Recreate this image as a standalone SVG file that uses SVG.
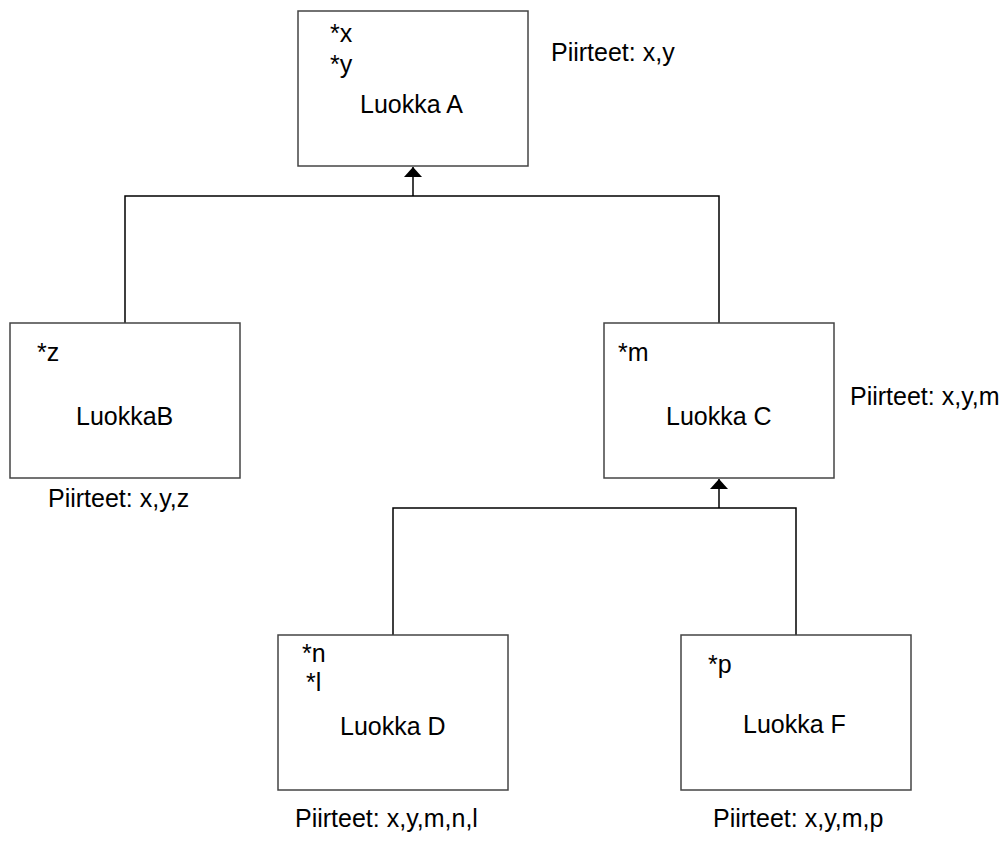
<svg xmlns="http://www.w3.org/2000/svg" width="1007" height="844" viewBox="0 0 1007 844">
  <style>
    .box { fill: #ffffff; stroke: #444444; stroke-width: 1.5; }
    .wire { fill: none; stroke: #000000; stroke-width: 1.5; }
    text { font-family: "Liberation Sans", Arial, sans-serif; font-size: 25px; fill: #000000; }
  </style>
  <defs>
    <marker id="arrowhead" viewBox="0 0 10 18" refX="10" refY="9" markerWidth="10" markerHeight="18" markerUnits="userSpaceOnUse" orient="auto">
      <path d="M0,0 L10,9 L0,18 Z" fill="#000000"/>
    </marker>
  </defs>
  <rect width="1007" height="844" fill="#ffffff"/>

  <!-- inheritance connectors -->
  <g id="connectors">
    <path class="wire" d="M125,323 V196 H719 V323"/>
    <path class="wire" d="M413,196 V167" marker-end="url(#arrowhead)"/>
    <path class="wire" d="M393,635 V508 H796 V635"/>
    <path class="wire" d="M719,508 V479" marker-end="url(#arrowhead)"/>
  </g>

  <g id="luokka-a">
    <rect class="box" x="298" y="11" width="230" height="155"/>
    <text x="330" y="42">*x</text>
    <text x="330" y="73">*y</text>
    <text x="360" y="113">Luokka A</text>
    <text x="551" y="61">Piirteet: x,y</text>
  </g>

  <g id="luokka-b">
    <rect class="box" x="10" y="323" width="230" height="155"/>
    <text x="37" y="361">*z</text>
    <text x="76" y="425">LuokkaB</text>
    <text x="48" y="507">Piirteet: x,y,z</text>
  </g>

  <g id="luokka-c">
    <rect class="box" x="604" y="323" width="230" height="155"/>
    <text x="618" y="361">*m</text>
    <text x="666" y="425">Luokka C</text>
    <text x="850" y="405">Piirteet: x,y,m</text>
  </g>

  <g id="luokka-d">
    <rect class="box" x="278" y="635" width="230" height="155"/>
    <text x="302" y="662">*n</text>
    <text x="306" y="691">*l</text>
    <text x="340" y="735">Luokka D</text>
    <text x="295" y="827">Piirteet: x,y,m,n,l</text>
  </g>

  <g id="luokka-f">
    <rect class="box" x="681" y="635" width="230" height="155"/>
    <text x="708" y="673">*p</text>
    <text x="743" y="733">Luokka F</text>
    <text x="713" y="827">Piirteet: x,y,m,p</text>
  </g>
</svg>
